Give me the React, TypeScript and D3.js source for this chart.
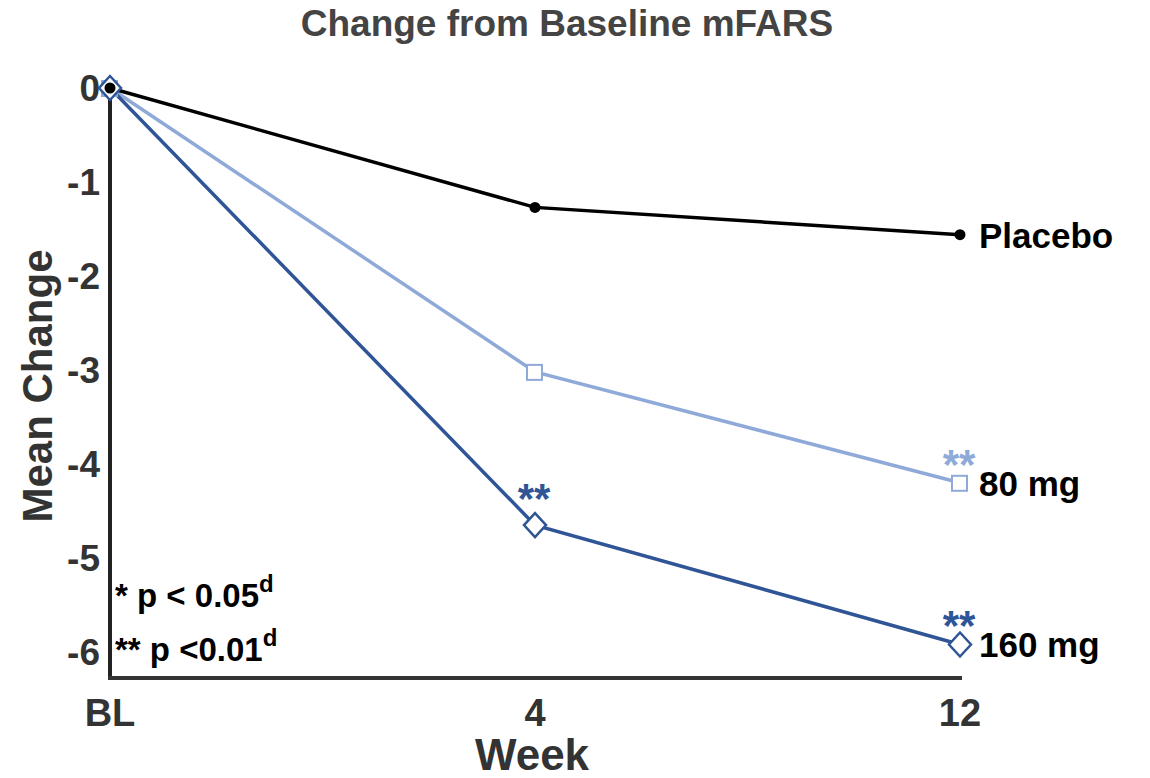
import React, { useEffect, useRef } from 'react';
import * as d3 from 'd3';

const weeks = ['BL', '4', '12'];
const yTicks = [0, -1, -2, -3, -4, -5, -6];
const placebo = [0, -1.27, -1.56];
const mg80 = [0, -3.02, -4.2];
const mg160 = [0, -4.65, -5.92];
const seriesNames = ['Placebo', '80 mg', '160 mg'];
// significance marks: [series index, week index]
const sigMarks: [number, number][] = [[2, 1], [1, 2], [2, 2]];

const COLORS = ['#000000', '#8fa9d9', '#2f5597'];
const FONT = 'Liberation Sans, Arial, sans-serif';

const App = () => {
  const ref = useRef<SVGSVGElement>(null);

  useEffect(() => {
    const svg = d3.select(ref.current);
    svg.selectAll('*').remove();

    const left = 110, right = 960, top = 88, bottom = 652, axisY = 678;

    const x = d3.scalePoint<string>().domain(weeks).range([left, right]);
    const y = d3.scaleLinear().domain([0, -6]).range([top, bottom]);

    // title
    svg.append('text')
      .attr('x', 567).attr('y', 36)
      .attr('text-anchor', 'middle')
      .attr('fill', '#444')
      .style('font-family', FONT).style('font-size', '37px').style('font-weight', 'bold')
      .text('Change from Baseline mFARS');

    // axes lines
    svg.append('line')
      .attr('x1', left).attr('x2', left).attr('y1', y(0)).attr('y2', axisY)
      .attr('stroke', '#222').attr('stroke-width', 4);
    svg.append('line')
      .attr('x1', left - 2).attr('x2', right + 2).attr('y1', axisY).attr('y2', axisY)
      .attr('stroke', '#333').attr('stroke-width', 4);

    // y tick labels
    svg.append('g').selectAll('text').data(yTicks).enter().append('text')
      .attr('x', left - 10).attr('y', d => y(d) + 13)
      .attr('text-anchor', 'end')
      .attr('fill', '#333')
      .style('font-family', FONT).style('font-size', '37px').style('font-weight', 'bold')
      .text(d => String(d));

    // x tick labels
    svg.append('g').selectAll('text').data(weeks).enter().append('text')
      .attr('x', d => x(d)!).attr('y', 726)
      .attr('text-anchor', 'middle')
      .attr('fill', '#333')
      .style('font-family', FONT).style('font-size', '38px').style('font-weight', 'bold')
      .text(d => d);

    // axis titles
    svg.append('text')
      .attr('transform', `translate(52,${386}) rotate(-90)`)
      .attr('text-anchor', 'middle')
      .attr('fill', '#333')
      .style('font-family', FONT).style('font-size', '42px').style('font-weight', 'bold')
      .text('Mean Change');
    svg.append('text')
      .attr('x', 532).attr('y', 770)
      .attr('text-anchor', 'middle')
      .attr('fill', '#333')
      .style('font-family', FONT).style('font-size', '44px').style('font-weight', 'bold')
      .text('Week');

    const all = [placebo, mg80, mg160];
    const line = d3.line<number>().x((_, i) => x(weeks[i])!).y(d => y(d));

    // draw 80 mg, 160 mg, then placebo on top
    [1, 2, 0].forEach(s => {
      svg.append('path')
        .attr('d', line(all[s]))
        .attr('fill', 'none')
        .attr('stroke', COLORS[s])
        .attr('stroke-width', 3.5);
    });

    // markers
    [1, 2, 0].forEach(s => {
      all[s].forEach((v, i) => {
        const cx = x(weeks[i])!, cy = y(v);
        if (s === 0) {
          svg.append('circle').attr('cx', cx).attr('cy', cy).attr('r', 5.5).attr('fill', '#000');
        } else if (s === 1) {
          svg.append('rect').attr('x', cx - 8).attr('y', cy - 7).attr('width', 15).attr('height', 15)
            .attr('fill', 'white').attr('stroke', COLORS[1]).attr('stroke-width', 2);
        } else {
          svg.append('path')
            .attr('d', `M${cx},${cy - 12}L${cx + 11},${cy}L${cx},${cy + 12}L${cx - 11},${cy}Z`)
            .attr('fill', 'white').attr('stroke', COLORS[2]).attr('stroke-width', 2.5);
        }
      });
    });

    // significance asterisks
    sigMarks.forEach(([s, i]) => {
      svg.append('text')
        .attr('x', x(weeks[i])! - 1).attr('y', y(all[s][i]) - (i === 1 ? 12 : 4))
        .attr('text-anchor', 'middle')
        .attr('fill', COLORS[s])
        .style('font-family', FONT).style('font-size', '42px').style('font-weight', 'bold')
        .text('**');
    });

    // series labels
    seriesNames.forEach((n, s) => {
      svg.append('text')
        .attr('x', right + 19).attr('y', y(all[s][2]) + 13)
        .attr('fill', '#000')
        .style('font-family', FONT).style('font-size', '35px').style('font-weight', 'bold')
        .text(n);
    });

    // footnote
    const notes = [['* p < 0.05', 607], ['** p <0.01', 661]] as [string, number][];
    notes.forEach(([t, yy]) => {
      const tx = svg.append('text')
        .attr('x', left + 5).attr('y', yy)
        .attr('fill', '#000')
        .style('font-family', FONT).style('font-size', '33px').style('font-weight', 'bold');
      tx.append('tspan').text(t);
      tx.append('tspan').attr('dy', -15).style('font-size', '24px').text('d');
    });
  }, []);

  return (
    <svg ref={ref} width={1150} height={778} style={{ display: 'block', margin: -8, background: 'white' }} />
  );
};

export default App;
